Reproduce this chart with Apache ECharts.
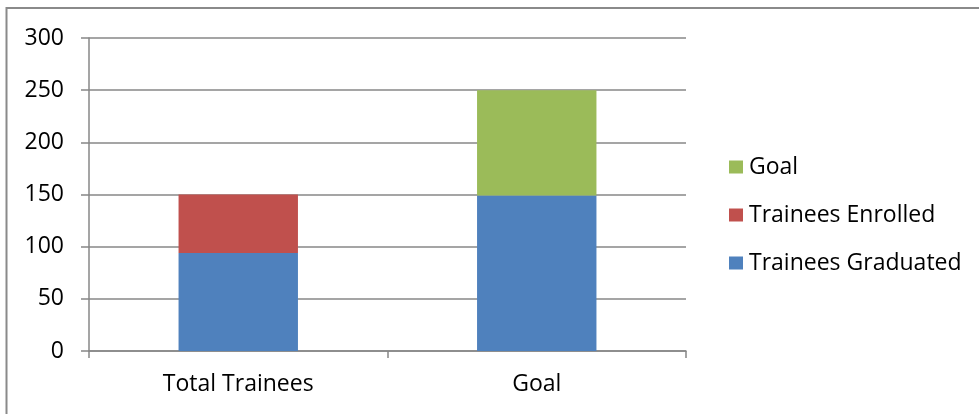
<!DOCTYPE html>
<html><head><meta charset="utf-8">
<script src="https://cdn.jsdelivr.net/npm/echarts@6/dist/echarts.min.js"></script>
<style>html,body{margin:0;padding:0;background:#fff}#c{width:979px;height:414px}</style>
</head><body><div id="c"></div>
<script>
const categories = ['Total Trainees', 'Goal'];
const graduated = [94, 149];
const enrolled = [56, '-'];
const goal = ['-', 101];
const yTicks = { min: 0, max: 300, interval: 50 };

const font = "'Open Sans', 'Liberation Sans', sans-serif";
const chart = echarts.init(document.getElementById('c'), null, { renderer: 'canvas' });
chart.setOption({
  animation: false,
  backgroundColor: '#fff',
  textStyle: { fontFamily: font },
  graphic: [{
    type: 'rect', shape: { x: 6.5, y: 8, width: 990, height: 430 },
    style: { fill: 'none', stroke: '#8a8a8a', lineWidth: 2 }, silent: true
  }],
  grid: { left: 89, right: 293, top: 38, bottom: 63 },
  legend: {
    orient: 'vertical', left: 724, top: 150,
    data: ['Goal', 'Trainees Enrolled', 'Trainees Graduated'],
    itemWidth: 14, itemHeight: 13, itemGap: 24, icon: 'rect',
    textStyle: { fontFamily: font, fontSize: 23, color: '#000', lineHeight: 24, padding: [0, 0, 0, 1] }
  },
  xAxis: {
    type: 'category', data: categories,
    axisLine: { lineStyle: { color: '#878787', width: 1.5 } },
    axisTick: { show: true, length: 7, lineStyle: { color: '#878787', width: 1.5 } },
    axisLabel: { color: '#000', fontSize: 23, fontFamily: font, margin: 22 }
  },
  yAxis: {
    type: 'value', min: yTicks.min, max: yTicks.max, interval: yTicks.interval,
    axisLine: { show: true, lineStyle: { color: '#878787', width: 1.5 } },
    axisTick: { show: true, length: 8, lineStyle: { color: '#878787', width: 1.5 } },
    splitLine: { lineStyle: { color: '#878787', width: 1.5 } },
    axisLabel: { color: '#000', fontSize: 23, fontFamily: font, margin: 25 }
  },
  series: [
    { name: 'Trainees Graduated', type: 'bar', stack: 's', data: graduated, barWidth: '40%', itemStyle: { color: '#4F81BD' } },
    { name: 'Trainees Enrolled', type: 'bar', stack: 's', data: enrolled, barWidth: '40%', itemStyle: { color: '#C0504D' } },
    { name: 'Goal', type: 'bar', stack: 's', data: goal, barWidth: '40%', itemStyle: { color: '#9BBB59' } }
  ]
});
</script></body></html>
